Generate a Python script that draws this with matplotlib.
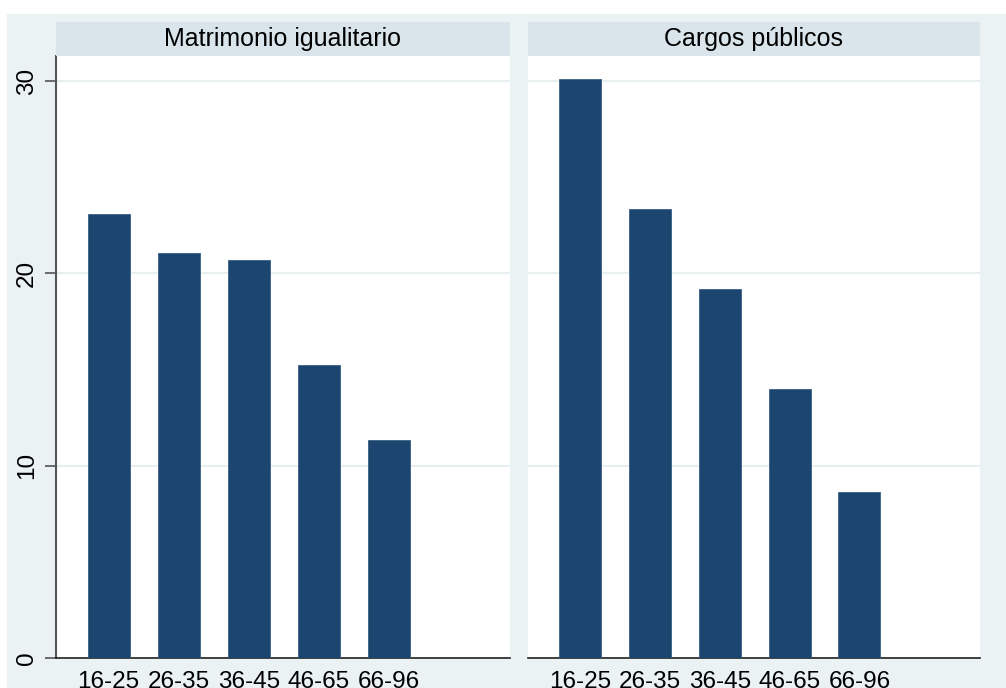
import numpy as np
import matplotlib
matplotlib.use("Agg")
import matplotlib.pyplot as plt
from matplotlib.patches import Rectangle

# Datos
grupos = ["16-25", "26-35", "36-45", "46-65", "66-96"]
matrimonio = [23.1, 21.05, 20.7, 15.25, 11.35]
cargos = [30.1, 23.35, 19.2, 14.0, 8.65]
paneles = ["Matrimonio igualitario", "Cargos públicos"]

bar_color = "#1C4670"
outer_bg = "#EAF2F3"
strip_bg = "#D9E5EB"
grid_color = "#E7EFF1"

plt.rcParams['font.family'] = ['Liberation Sans', 'DejaVu Sans']

W, H = 1006, 688
fig = plt.figure(figsize=(W / 100, H / 100), dpi=100)
fig.patches.append(Rectangle((7 / W, 0), 1 - 7 / W, 1 - 14 / H, transform=fig.transFigure,
                             facecolor=outer_bg, edgecolor="none", zorder=-10))

x = np.arange(len(grupos))
lefts = [56, 528]
widths = [454, 452]
for i, (vals, name) in enumerate(zip([matrimonio, cargos], paneles)):
    ax = fig.add_axes([lefts[i] / W, 30 / H, widths[i] / W, 602 / H])
    ax.set_facecolor("white")
    ax.bar(x, vals, width=0.6, color=bar_color, edgecolor="#3A5F84", linewidth=0.6, zorder=3)
    ax.set_xlim(-0.75, 5.73)
    ax.set_ylim(0, (658 - 56) / 19.23)
    ax.set_yticks([0, 10, 20, 30])
    ax.yaxis.grid(True, color=grid_color, linewidth=1.5, zorder=0)
    ax.set_xticks(x)
    ax.set_xticklabels(grupos, fontsize=17.5)
    ax.tick_params(axis="x", length=0, pad=9)
    for s in ["top", "right"]:
        ax.spines[s].set_visible(False)
    ax.spines["bottom"].set_color("#222222")
    ax.spines["bottom"].set_linewidth(1.2)
    if i == 0:
        ax.spines["left"].set_color("#555555")
        ax.spines["left"].set_linewidth(1.5)
        ax.tick_params(axis="y", length=8, width=1.2, color="#555555", labelsize=17.5, pad=5)
        for lab in ax.get_yticklabels():
            lab.set_rotation(90)
            lab.set_va("center")
    else:
        ax.spines["left"].set_visible(False)
        ax.tick_params(axis="y", length=0, labelleft=False)
    # franja del titulo
    sax = fig.add_axes([lefts[i] / W, (H - 56) / H, widths[i] / W, 34 / H])
    sax.set_facecolor(strip_bg)
    sax.set_xticks([])
    sax.set_yticks([])
    for s in sax.spines.values():
        s.set_visible(False)
    sax.text(0.5, 0.5, name, ha="center", va="center", fontsize=18, transform=sax.transAxes)

fig.savefig("out.png", dpi=100)
